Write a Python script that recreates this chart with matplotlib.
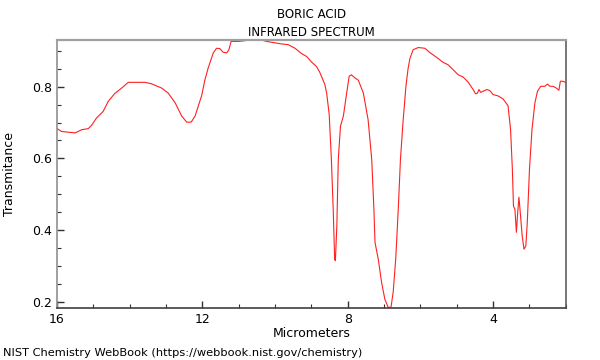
#!/usr/bin/env python
from __future__ import annotations

import matplotlib

matplotlib.use("Agg")
import matplotlib.pyplot as plt
from matplotlib.ticker import MultipleLocator

# spectrum, wavelength in micrometers
WAVELENGTH_UM = [
    16.00, 15.87, 15.50, 15.32, 15.14, 15.05, 14.91, 14.73, 14.59, 14.41,
    14.22, 14.04, 13.86, 13.58, 13.40, 13.12, 12.94, 12.75, 12.57, 12.43,
    12.31, 12.20, 12.02, 11.93, 11.84, 11.70, 11.61, 11.52, 11.43, 11.33,
    11.27, 11.21, 11.01, 10.83, 10.65, 10.42, 10.23, 9.82, 9.64, 9.45,
    9.27, 9.13, 9.00, 8.86, 8.77, 8.63, 8.58, 8.51, 8.45, 8.40,
    8.36, 8.34, 8.30, 8.26, 8.20, 8.12, 8.03, 7.96, 7.90, 7.80,
    7.71, 7.57, 7.44, 7.34, 7.28, 7.25, 7.16, 7.07, 6.98, 6.89,
    6.81, 6.75, 6.68, 6.61, 6.55, 6.48, 6.40, 6.34, 6.29, 6.20,
    6.06, 5.88, 5.74, 5.56, 5.38, 5.24, 5.10, 4.96, 4.83, 4.69,
    4.55, 4.48, 4.43, 4.39, 4.34, 4.28, 4.17, 4.09, 4.00, 3.86,
    3.73, 3.59, 3.52, 3.47, 3.44, 3.40, 3.36, 3.33, 3.29, 3.26,
    3.20, 3.15, 3.10, 3.06, 3.00, 2.93, 2.85, 2.78, 2.69, 2.58,
    2.50, 2.44, 2.35, 2.26, 2.19, 2.15, 2.08, 2.01,
]
TRANSMITANCE = [
    0.683, 0.675, 0.671, 0.680, 0.683, 0.692, 0.713, 0.731, 0.759, 0.781,
    0.796, 0.812, 0.812, 0.812, 0.808, 0.796, 0.782, 0.755, 0.718, 0.701,
    0.701, 0.718, 0.775, 0.819, 0.852, 0.894, 0.907, 0.906, 0.896, 0.894,
    0.903, 0.926, 0.926, 0.928, 0.931, 0.931, 0.926, 0.919, 0.917, 0.907,
    0.892, 0.884, 0.869, 0.856, 0.840, 0.806, 0.782, 0.722, 0.597, 0.458,
    0.319, 0.315, 0.412, 0.597, 0.690, 0.718, 0.782, 0.829, 0.833, 0.824,
    0.818, 0.782, 0.708, 0.597, 0.458, 0.366, 0.319, 0.255, 0.208, 0.185,
    0.185, 0.227, 0.319, 0.458, 0.597, 0.700, 0.800, 0.850, 0.878, 0.903,
    0.909, 0.907, 0.895, 0.882, 0.868, 0.861, 0.847, 0.833, 0.827, 0.813,
    0.792, 0.780, 0.782, 0.792, 0.784, 0.787, 0.792, 0.789, 0.778, 0.774,
    0.766, 0.747, 0.681, 0.569, 0.467, 0.458, 0.394, 0.440, 0.492, 0.458,
    0.384, 0.347, 0.356, 0.421, 0.569, 0.681, 0.755, 0.787, 0.801, 0.801,
    0.807, 0.801, 0.801, 0.796, 0.790, 0.815, 0.815, 0.812,
]


def main() -> None:
    fig = plt.figure(figsize=(6, 3.6), dpi=100)
    ax = fig.add_axes([0.095, 0.1444, 0.848, 0.7445])

    ax.plot(WAVELENGTH_UM, TRANSMITANCE, color="#ff2020", linewidth=0.8)

    ax.set_xlim(16, 2)
    ax.set_ylim(0.183, 0.93)
    ax.xaxis.set_major_locator(MultipleLocator(4))
    ax.xaxis.set_minor_locator(MultipleLocator(1))
    ax.yaxis.set_major_locator(MultipleLocator(0.2))
    ax.yaxis.set_minor_locator(MultipleLocator(0.05))
    ax.set_xticks([16, 12, 8, 4])
    ax.set_xticklabels(["16", "12", "8", "4"])
    ax.tick_params(which="both", direction="in", labelsize=9,
                   top=False, right=False, color="#303030")
    ax.tick_params(which="major", length=5, width=1)
    ax.tick_params(which="minor", length=3, width=0.8)

    ax.spines["top"].set_color("#a0a0a0")
    ax.spines["top"].set_linewidth(1.6)
    ax.spines["left"].set_color("#909090")
    ax.spines["left"].set_linewidth(1.2)
    ax.spines["bottom"].set_color("#404040")
    ax.spines["bottom"].set_linewidth(1.2)
    ax.spines["right"].set_color("#606060")
    ax.spines["right"].set_linewidth(1.2)

    ax.set_xlabel("Micrometers", fontsize=9)
    ax.xaxis.set_label_coords(0.5, -0.07)
    ax.set_ylabel("Transmitance", fontsize=9)
    ax.yaxis.set_label_coords(-0.08, 0.5)
    ax.set_title("BORIC ACID\nINFRARED SPECTRUM", fontsize=8.5,
                 linespacing=1.45, pad=3)

    fig.text(0.005, 0.006, "NIST Chemistry WebBook (https://webbook.nist.gov/chemistry)",
             fontsize=8.2, ha="left", va="bottom")

    fig.savefig("out.png", dpi=100)
    plt.close(fig)


if __name__ == "__main__":
    main()
